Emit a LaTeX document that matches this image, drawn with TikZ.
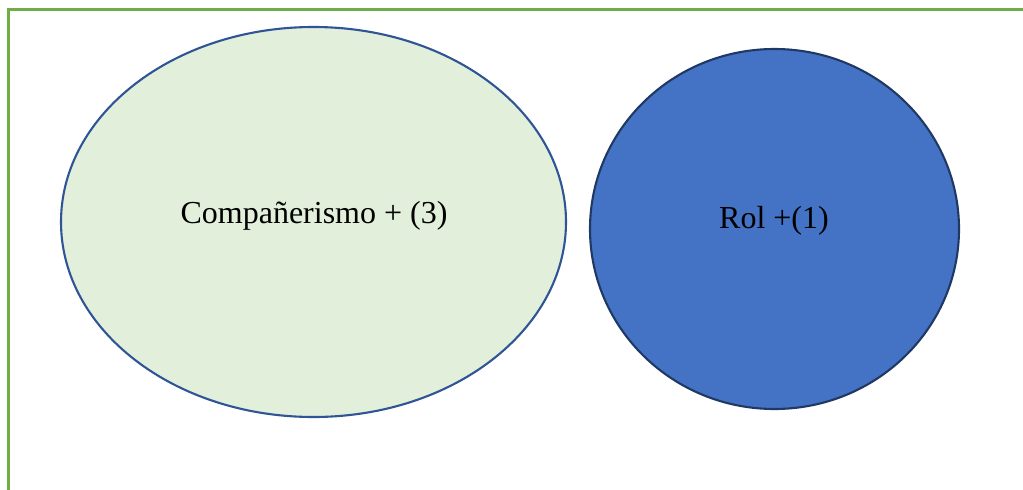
\documentclass[tikz,border=0pt]{standalone}
\usepackage{fontspec}
\setmainfont{Liberation Serif}
\usetikzlibrary{shapes.geometric}
\definecolor{framegreen}{HTML}{70AD47}
\definecolor{palegreen}{HTML}{E2EFDA}
\definecolor{edgeblue}{HTML}{2F5597}
\definecolor{fillblue}{HTML}{4472C4}
\definecolor{darkedge}{HTML}{203864}
\begin{document}
\begin{tikzpicture}[x=1pt,y=-1pt,
  blob/.style={ellipse, inner sep=0pt, line width=2.1pt},
  caption/.style={font=\fontsize{32}{38}\selectfont, text=black, inner sep=0pt}]
  \useasboundingbox[fill=white] (0,0) rectangle (1023,490);
  % open frame: left and top sides only
  \draw[framegreen, line width=2.6pt] (8.5,490) -- (8.5,9.5) -- (1023,9.5);
  % left oval
  \node[blob, draw=edgeblue, fill=palegreen, minimum width=505pt, minimum height=390pt]
    (comp) at (313.5,222) {};
  \node[caption] (comptext) at (314,216) {Compañerismo + (3)};
  % right circle
  \node[blob, draw=darkedge, fill=fillblue, minimum width=369pt, minimum height=360pt]
    (rol) at (774.5,229) {};
  \node[caption] (roltext) at (774,221) {Rol +(1)};
\end{tikzpicture}
\end{document}
